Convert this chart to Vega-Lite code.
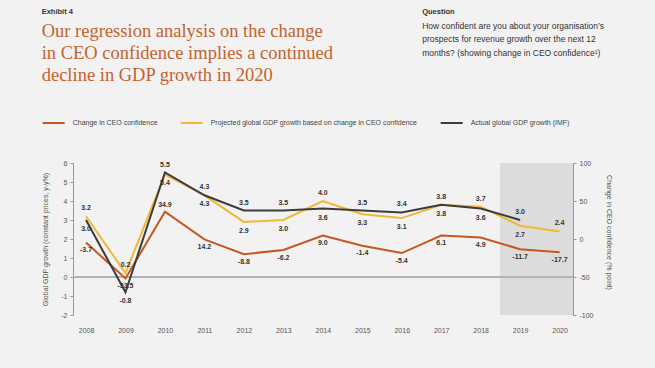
{
  "$schema": "https://vega.github.io/schema/vega-lite/v6.json",
  "width": 500,
  "height": 152,
  "autosize": "none",
  "padding": {"left": 73, "top": 163, "right": 82, "bottom": 53},
  "background": "#f2f2f2",
  "title": {
    "text": "Exhibit 4",
    "subtitle": ["Our regression analysis on the change", "in CEO confidence implies a continued", "decline in GDP growth in 2020"],
    "anchor": "start",
    "frame": "group",
    "dx": -31.3,
    "dy": 77,
    "offset": 0,
    "font": "Liberation Sans",
    "fontSize": 7.5,
    "fontWeight": "bold",
    "color": "#333333",
    "subtitleFont": "Liberation Serif",
    "subtitleFontSize": 18.5,
    "subtitleColor": "#c4622d",
    "subtitleLineHeight": 22,
    "subtitlePadding": 7
  },
  "data": {
    "values": [
      {"year": 2008, "ceo": -4.5, "ceoLabel": -3.7, "proj": 3.2, "actual": 3.0},
      {"year": 2009, "ceo": -52, "ceoLabel": -53.5, "proj": 0.2, "actual": -0.8},
      {"year": 2010, "ceo": 36, "ceoLabel": 34.9, "proj": 5.4, "actual": 5.5},
      {"year": 2011, "ceo": -0.5, "ceoLabel": 14.2, "proj": 4.3, "actual": 4.3},
      {"year": 2012, "ceo": -20, "ceoLabel": -8.8, "proj": 2.9, "actual": 3.5},
      {"year": 2013, "ceo": -14.5, "ceoLabel": -6.2, "proj": 3.0, "actual": 3.5},
      {"year": 2014, "ceo": 4.5, "ceoLabel": 9.0, "proj": 4.0, "actual": 3.6},
      {"year": 2015, "ceo": -9, "ceoLabel": -1.4, "proj": 3.3, "actual": 3.5},
      {"year": 2016, "ceo": -18.5, "ceoLabel": -5.4, "proj": 3.1, "actual": 3.4},
      {"year": 2017, "ceo": 4.5, "ceoLabel": 6.1, "proj": 3.8, "actual": 3.8},
      {"year": 2018, "ceo": 2, "ceoLabel": 4.9, "proj": 3.7, "actual": 3.6},
      {"year": 2019, "ceo": -13.5, "ceoLabel": -11.7, "proj": 2.7, "actual": 3.0},
      {"year": 2020, "ceo": -17.5, "ceoLabel": -17.7, "proj": 2.4, "actual": null}
    ]
  },
  "layer": [
    {
      "mark": {"type": "rect", "color": "#dcdcdc"},
      "encoding": {
        "x": {
          "datum": 2018.5, "type": "quantitative",
          "scale": {"domain": [2007.67, 2020.34], "nice": false, "zero": false},
          "axis": {
            "orient": "top", "labels": false, "ticks": false, "domain": false, "grid": false,
            "title": "Question", "titleX": 348.7, "titleY": -151.3, "titleAngle": 0,
            "titleAlign": "left", "titleBaseline": "middle", "titleFontWeight": "bold",
            "titleFontSize": 7.5, "titleColor": "#333333"
          }
        },
        "x2": {"datum": 2020.34}
      }
    },
    {
      "mark": {"type": "rule", "color": "#b3b3b3", "strokeWidth": 1},
      "encoding": {"y": {"datum": 0, "type": "quantitative", "scale": {"domain": [-2, 6], "nice": false, "zero": false}, "axis": null}}
    },
    {
      "mark": {"type": "line", "strokeWidth": 2},
      "encoding": {
        "x": {"field": "year", "type": "quantitative", "scale": {"domain": [2007.67, 2020.34], "nice": false, "zero": false}, "axis": null},
        "y": {
          "field": "ceo", "type": "quantitative",
          "scale": {"domain": [-100, 100], "nice": false, "zero": false},
          "axis": {
            "orient": "right", "values": [-100, -50, 0, 50, 100], "grid": false,
            "title": "Change in CEO confidence (% point)", "titlePadding": 12, "labelPadding": 3, "titleY": 69
          }
        },
        "color": {
          "datum": "Change in CEO confidence",
          "scale": {
            "domain": ["Change in CEO confidence", "Projected global GDP growth based on change in CEO confidence", "Actual global GDP growth (IMF)"],
            "range": ["#c5581f", "#f2b835", "#3c3c3c"]
          },
          "legend": {
            "orient": "none", "legendX": -31.3, "legendY": -52, "direction": "horizontal", "title": null,
            "symbolType": "stroke", "symbolSize": 484, "symbolStrokeWidth": 2,
            "labelFont": "Liberation Sans", "labelFontSize": 7, "labelColor": "#444444", "labelOffset": 7,
            "labelLimit": 400, "columnPadding": 19, "padding": 0
          }
        }
      }
    },
    {
      "mark": {"type": "line", "strokeWidth": 2},
      "encoding": {
        "x": {
          "field": "year", "type": "quantitative",
          "scale": {"domain": [2007.67, 2020.34], "nice": false, "zero": false},
          "axis": {
            "orient": "bottom", "values": [2008, 2009, 2010, 2011, 2012, 2013, 2014, 2015, 2016, 2017, 2018, 2019, 2020],
            "format": "d", "ticks": false, "domain": false, "grid": false, "labelPadding": 11,
            "title": ["How confident are you about your organisation\u2019s", "prospects for revenue growth over the next 12", "months? (showing change in CEO confidence\u00b9)"],
            "titleX": 348.7, "titleY": -294, "titleAngle": 0, "titleAlign": "left", "titleBaseline": "top",
            "titleFontSize": 8.5, "titleLineHeight": 13.7, "titleColor": "#333333", "titleFontWeight": "normal"
          }
        },
        "y": {
          "field": "proj", "type": "quantitative",
          "scale": {"domain": [-2, 6], "nice": false, "zero": false},
          "axis": {
            "orient": "left", "values": [-2, -1, 0, 1, 2, 3, 4, 5, 6], "grid": false,
            "title": "Global GDP growth (constant prices, y-y%)", "titlePadding": 12, "labelPadding": 3
          }
        },
        "color": {"datum": "Projected global GDP growth based on change in CEO confidence"}
      }
    },
    {
      "mark": {"type": "line", "strokeWidth": 2},
      "encoding": {
        "x": {"field": "year", "type": "quantitative", "scale": {"domain": [2007.67, 2020.34], "nice": false, "zero": false}, "axis": null},
        "y": {"field": "actual", "type": "quantitative", "scale": {"domain": [-2, 6], "nice": false, "zero": false}, "axis": null},
        "color": {"datum": "Actual global GDP growth (IMF)"}
      }
    },
    {
      "transform": [{"filter": "datum.actual == null || datum.proj > datum.actual"}],
      "mark": {"type": "text", "dy": -8, "font": "Liberation Sans", "fontSize": 7, "fontWeight": "bold", "color": "#333333", "baseline": "middle"},
      "encoding": {
        "x": {"field": "year", "type": "quantitative", "scale": {"domain": [2007.67, 2020.34], "nice": false, "zero": false}, "axis": null},
        "y": {"field": "proj", "type": "quantitative", "scale": {"domain": [-2, 6], "nice": false, "zero": false}, "axis": null},
        "text": {"field": "proj", "type": "quantitative", "format": ".1f"}
      }
    },
    {
      "transform": [{"filter": "datum.actual != null && datum.proj <= datum.actual"}],
      "mark": {"type": "text", "dy": 9, "font": "Liberation Sans", "fontSize": 7, "fontWeight": "bold", "color": "#333333", "baseline": "middle"},
      "encoding": {
        "x": {"field": "year", "type": "quantitative", "scale": {"domain": [2007.67, 2020.34], "nice": false, "zero": false}, "axis": null},
        "y": {"field": "proj", "type": "quantitative", "scale": {"domain": [-2, 6], "nice": false, "zero": false}, "axis": null},
        "text": {"field": "proj", "type": "quantitative", "format": ".1f"}
      }
    },
    {
      "transform": [{"filter": "datum.actual != null && datum.actual >= datum.proj"}],
      "mark": {"type": "text", "dy": -8, "font": "Liberation Sans", "fontSize": 7, "fontWeight": "bold", "color": "#333333", "baseline": "middle"},
      "encoding": {
        "x": {"field": "year", "type": "quantitative", "scale": {"domain": [2007.67, 2020.34], "nice": false, "zero": false}, "axis": null},
        "y": {"field": "actual", "type": "quantitative", "scale": {"domain": [-2, 6], "nice": false, "zero": false}, "axis": null},
        "text": {"field": "actual", "type": "quantitative", "format": ".1f"}
      }
    },
    {
      "transform": [{"filter": "datum.actual != null && datum.actual < datum.proj"}],
      "mark": {"type": "text", "dy": 9, "font": "Liberation Sans", "fontSize": 7, "fontWeight": "bold", "color": "#333333", "baseline": "middle"},
      "encoding": {
        "x": {"field": "year", "type": "quantitative", "scale": {"domain": [2007.67, 2020.34], "nice": false, "zero": false}, "axis": null},
        "y": {"field": "actual", "type": "quantitative", "scale": {"domain": [-2, 6], "nice": false, "zero": false}, "axis": null},
        "text": {"field": "actual", "type": "quantitative", "format": ".1f"}
      }
    },
    {
      "transform": [{"filter": "datum.year == 2010"}],
      "mark": {"type": "text", "dy": -7, "font": "Liberation Sans", "fontSize": 7, "fontWeight": "bold", "color": "#333333", "baseline": "middle"},
      "encoding": {
        "x": {"field": "year", "type": "quantitative", "scale": {"domain": [2007.67, 2020.34], "nice": false, "zero": false}, "axis": null},
        "y": {"field": "ceo", "type": "quantitative", "scale": {"domain": [-100, 100], "nice": false, "zero": false}, "axis": null},
        "text": {"field": "ceoLabel", "type": "quantitative", "format": ".1f"}
      }
    },
    {
      "transform": [{"filter": "datum.year != 2010"}],
      "mark": {"type": "text", "dy": 7.5, "font": "Liberation Sans", "fontSize": 7, "fontWeight": "bold", "color": "#333333", "baseline": "middle"},
      "encoding": {
        "x": {"field": "year", "type": "quantitative", "scale": {"domain": [2007.67, 2020.34], "nice": false, "zero": false}, "axis": null},
        "y": {"field": "ceo", "type": "quantitative", "scale": {"domain": [-100, 100], "nice": false, "zero": false}, "axis": null},
        "text": {"field": "ceoLabel", "type": "quantitative", "format": ".1f"}
      }
    }
  ],
  "resolve": {"scale": {"y": "independent"}, "axis": {"x": "independent", "y": "independent"}},
  "config": {
    "locale": {"number": {"decimal": ".", "thousands": ",", "grouping": [3], "currency": ["$", ""], "minus": "-"}},
    "view": {"stroke": null},
    "axis": {
      "labelFont": "Liberation Sans", "titleFont": "Liberation Sans", "labelFontSize": 7, "titleFontSize": 7,
      "labelColor": "#555555", "titleColor": "#555555", "titleFontWeight": "normal",
      "domainColor": "#999999", "tickColor": "#999999", "tickSize": 3, "grid": false
    }
  }
}
